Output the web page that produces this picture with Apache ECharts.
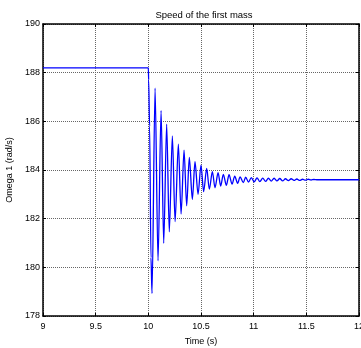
<!DOCTYPE html>
<html>
<head>
<meta charset="utf-8">
<script src="https://cdn.jsdelivr.net/npm/echarts@6/dist/echarts.min.js"></script>
<style>html,body{margin:0;padding:0;background:#fff}#c{width:361px;height:348px}</style>
</head>
<body>
<div id="c"></div>
<script>
var titleText = 'Speed of the first mass';
var xName = 'Time (s)';
var yName = 'Omega 1 (rad/s)';
var xTicks = [9, 9.5, 10, 10.5, 11, 11.5, 12];
var yTicks = [178, 180, 182, 184, 186, 188, 190];
var time = [9, 10.0, 10.003, 10.012, 10.025, 10.035, 10.064, 10.092, 10.121, 10.146, 10.174, 10.199, 10.228, 10.254, 10.285, 10.311, 10.339, 10.364, 10.389, 10.418, 10.443, 10.472, 10.500, 10.525, 10.554, 10.579, 10.608, 10.633, 10.662, 10.687, 10.712, 10.741, 10.766, 10.795, 10.820, 10.848, 10.871, 10.902, 10.924, 10.951, 10.978, 11.005, 11.032, 11.059, 11.086, 11.113, 11.140, 11.167, 11.194, 11.221, 11.248, 11.275, 11.302, 11.329, 11.356, 11.383, 11.410, 11.437, 11.464, 11.491, 11.518, 11.545, 11.572, 11.6, 12];
var omega = [188.2, 188.2, 187.7, 185.8, 180.4, 178.93, 187.36, 180.27, 186.44, 180.99, 185.88, 181.46, 185.40, 181.88, 185.06, 182.19, 184.82, 182.53, 184.52, 182.79, 184.34, 183.00, 184.20, 183.11, 184.07, 183.21, 183.93, 183.27, 183.89, 183.34, 183.82, 183.37, 183.81, 183.42, 183.75, 183.45, 183.72, 183.48, 183.71, 183.50, 183.69, 183.51, 183.68, 183.52, 183.67, 183.53, 183.66, 183.54, 183.66, 183.55, 183.65, 183.55, 183.64, 183.56, 183.64, 183.57, 183.63, 183.57, 183.62, 183.58, 183.62, 183.59, 183.61, 183.6, 183.6];

var pts = time.map(function (t, i) { return [t, omega[i]]; });
var font = "'Liberation Sans', Arial, sans-serif";
var chart = echarts.init(document.getElementById('c'), null, {renderer: 'canvas'});
function axisBase(showLabels) {
  return {
    axisLine: {show: true, lineStyle: {color: '#000', width: 1.5}},
    axisTick: {show: true, inside: true, length: 3, lineStyle: {color: '#000'}},
    axisLabel: {show: showLabels, color: '#000', fontSize: 9, fontFamily: font},
    splitLine: {show: false}
  };
}
var xb = axisBase(true), xt = axisBase(false), yl = axisBase(true), yr = axisBase(false);
chart.setOption({
  animation: false,
  title: {text: titleText, left: 199, top: 5, textAlign: 'center',
    textStyle: {fontSize: 9.5, fontWeight: 'normal', color: '#000', fontFamily: font}},
  grid: {left: 43, right: 2, top: 24, bottom: 32, show: false, containLabel: false, outerBoundsMode: 'none'},
  xAxis: [
    Object.assign(xb, {type: 'value', position: 'bottom', min: xTicks[0], max: xTicks[xTicks.length - 1], interval: 0.5,
      name: xName, nameLocation: 'middle', nameGap: 21,
      nameTextStyle: {fontSize: 9, color: '#000', fontFamily: font},
      axisLabel: {show: true, color: '#000', fontSize: 9, fontFamily: font, margin: 6},
      splitLine: {show: true, lineStyle: {color: '#666', type: [1, 1], width: 1}}}),
    Object.assign(xt, {type: 'value', position: 'top', min: xTicks[0], max: xTicks[xTicks.length - 1], interval: 0.5})
  ],
  yAxis: [
    Object.assign(yl, {type: 'value', position: 'left', min: yTicks[0], max: yTicks[yTicks.length - 1], interval: 2,
      name: yName, nameLocation: 'middle', nameGap: 26,
      nameTextStyle: {fontSize: 9, color: '#000', fontFamily: font},
      axisLabel: {show: true, color: '#000', fontSize: 9, fontFamily: font, margin: 3},
      splitLine: {show: true, lineStyle: {color: '#666', type: [1, 1], width: 1}}}),
    Object.assign(yr, {type: 'value', position: 'right', min: yTicks[0], max: yTicks[yTicks.length - 1], interval: 2})
  ],
  series: [{
    type: 'line', data: pts, showSymbol: false, symbol: 'none',
    smooth: 0.3, smoothMonotone: 'x',
    lineStyle: {color: '#0000ff', width: 1.3}
  }]
});
</script>
</body>
</html>
